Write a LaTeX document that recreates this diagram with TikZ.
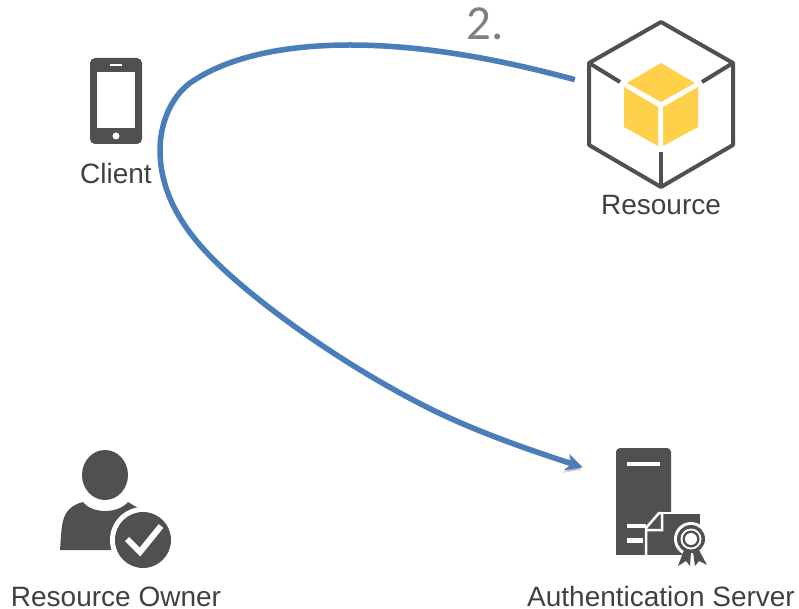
\documentclass[tikz,border=0pt]{standalone}
\usepackage{fontspec}
\setmainfont{Liberation Sans}
\newfontfamily\stepfont{Carlito}
\definecolor{icongray}{HTML}{505050}
\definecolor{textgray}{HTML}{404040}
\definecolor{cubeyellow}{HTML}{FFD04A}
\definecolor{curveblue}{HTML}{4A7EBB}
\usetikzlibrary{arrows.meta}
\begin{document}
\begin{tikzpicture}[
  x=1pt, y=-1pt,
  lbl/.style={text=textgray, font=\fontsize{28}{30}\selectfont, inner sep=0pt},
  icon/.style={inner sep=0pt, minimum width=#1},
  solid/.style={fill=icongray, draw=none},
  wire/.style={draw=icongray, line width=4pt},
  cut/.style={draw=white, line width=2.5pt},
  curve/.style={draw=curveblue, line width=5.5pt, -{Stealth[length=17pt,width=17pt]},
    preaction={draw=black, opacity=.18, transform canvas={shift={(-1pt,-2.5pt)}}}}
]
\useasboundingbox (0,0) rectangle (799,609);

% labels
\node[lbl] (clientlbl) at (116,173) {Client};
\node[lbl] (resourcelbl) at (661,205) {Resource};
\node[lbl] (ownerlbl) at (116,596.5) {Resource Owner};
\node[lbl] (authlbl) at (661,596.5) {Authentication Server};
\node[text=gray, font=\stepfont\fontsize{49}{50}\selectfont, inner sep=0pt] (step2) at (485,24) {2.};

% phone
\node[icon=52pt, minimum height=84pt] (client) at (116,100) {};
\fill[solid, rounded corners=5pt] (90,58) rectangle (142,144);
\fill[white] (97,72) rectangle (135,128);
\fill[white] (110,64) rectangle (122,66.5);
\fill[white] (116,136) circle (3.5);

% cube
\node[icon=172pt, minimum height=150pt] (resource) at (661,118) {};
\draw[wire, line join=round] (661,22) -- (733,63) -- (733,145) -- (661,187) -- (589,145) -- (589,63) -- cycle;
\draw[wire] (589,63) -- (620,82);
\draw[wire] (733,63) -- (702,82);
\draw[wire] (661,152) -- (661,187);
\fill[cubeyellow] (661,63) -- (695,83) -- (661,102) -- (627,83) -- cycle;
\fill[cubeyellow] (624,87) -- (658,107) -- (658,146) -- (624,127) -- cycle;
\fill[cubeyellow] (698,87) -- (663,107) -- (663,146) -- (698,127) -- cycle;

% person with check
\node[icon=114pt, minimum height=110pt] (owner) at (116,505) {};
\fill[solid] (105,475) ellipse (23 and 25);
\fill[solid] (60,550) .. controls (62,525) and (60,508) .. (83,502) .. controls (92,514) and (118,514) .. (128,502) -- (138,508) -- (125,550) -- cycle;
\fill[white] (143,540) circle (33);
\fill[solid] (143,540) circle (28);
\draw[white, line width=6pt] (127,539) -- (140,552) -- (161,526);

% server with certificate
\node[icon=154pt, minimum height=120pt] (auth) at (660,505) {};
\fill[solid, rounded corners=4pt] (616,448) rectangle (671,530);
\fill[solid] (616,520) rectangle (671,555);
\fill[white] (627,462) rectangle (660,466);
\fill[white] (627,524) rectangle (646,528);
\fill[white] (627,538) rectangle (643,543);
\fill[solid] (665,514) rectangle (700,555);
\draw[cut] (646,558) -- (646,528) -- (659,513) -- (662,513) -- (662,530) -- (646,530);
\draw[cut] (662,513) -- (701,513);
\fill[white] (691,539) circle (17);
\fill[solid] (684,550) -- (678,566) -- (686,561) -- (690,566) -- (691,552) -- cycle;
\fill[solid] (693,552) -- (695,566) -- (699,561) -- (707,565) -- (699,550) -- cycle;
\fill[solid] (691,539) circle (14);
\fill[white] (691,539) circle (10.5);
\fill[solid] (691,539) circle (8.5);
\fill[white] (691,539) circle (6);

% curve from the cube to the server
\draw[curve] (resource.156) .. controls (510,62) and (430,45) .. (350,45)
  .. controls (290,45) and (230,55) .. (190,83)
  .. controls (170,98) and (160,125) .. (160,150)
  .. controls (160,195) and (185,232) .. (217,263)
  .. controls (260,305) and (340,362) .. (417,402)
  .. controls (470,430) and (530,450) .. (auth.154);
\end{tikzpicture}
\end{document}
